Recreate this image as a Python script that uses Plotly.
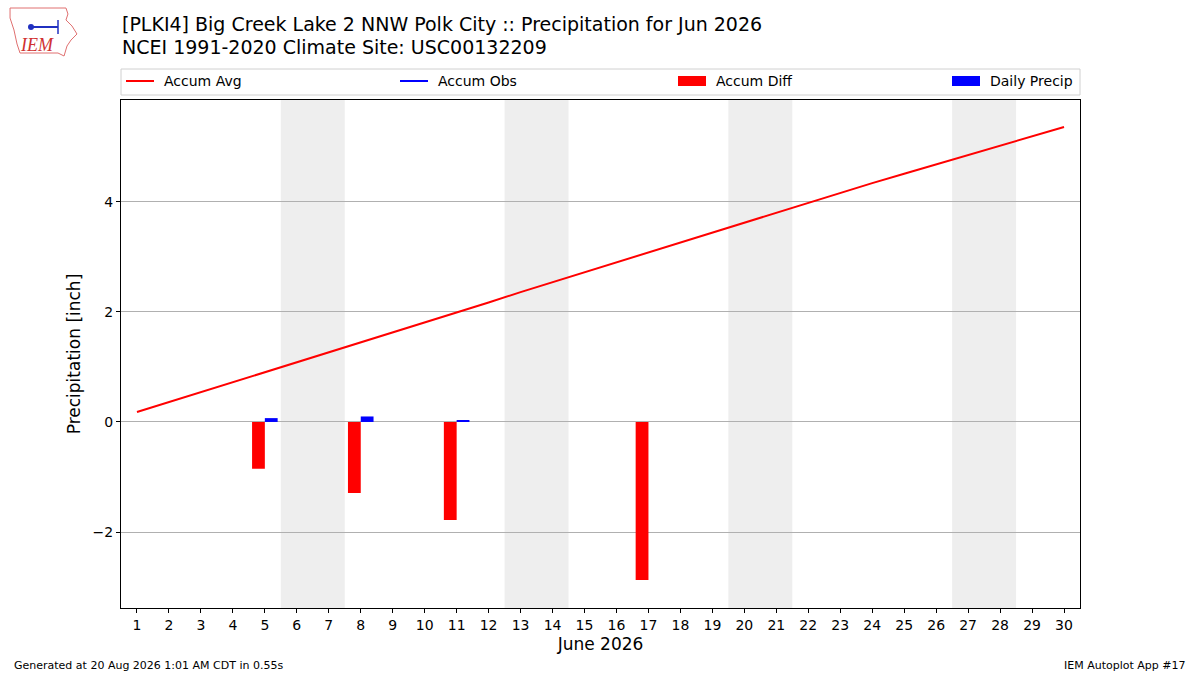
import plotly.graph_objects as go

# 6월 일자
days = list(range(1, 31))

# 평년 누적 강수량 (inch) - 그림에서 읽은 값
accum_avg = [0.18, 0.36, 0.55, 0.73, 0.91, 1.09, 1.27, 1.45, 1.63, 1.81,
             1.99, 2.17, 2.36, 2.54, 2.72, 2.90, 3.08, 3.27, 3.45, 3.63,
             3.81, 3.99, 4.17, 4.34, 4.51, 4.68, 4.85, 5.03, 5.19, 5.36]

# 관측 누적 (관측 있는 날만, 나머지 None)
accum_obs = [None, None, None, None, 0.07, None, None, 0.17, None, None,
             0.19, None, None, None, None, None, 0.19, None, None, None,
             None, None, None, None, None, None, None, None, None, None]

# 누적 차이 / 일 강수량
diff_days = [5, 8, 11, 17]
accum_diff = [-0.85, -1.29, -1.78, -2.87]
precip_days = [5, 8, 11]
daily_precip = [0.07, 0.10, 0.02]

# 주말 (토, 일)
weekends = [(6, 7), (13, 14), (20, 21), (27, 28)]

title_line1 = "[PLKI4] Big Creek Lake 2 NNW Polk City :: Precipitation for Jun 2026"
title_line2 = "NCEI 1991-2020 Climate Site: USC00132209"

# 플롯 영역 (픽셀)
L, R, T, B = 121, 1080, 100, 608


def fx(px):
    return (px - L) / (R - L)


def fy(py):
    return (B - py) / (B - T)


fig = go.Figure()

fig.add_trace(go.Scatter(
    x=days, y=accum_avg, mode="lines", name="Accum Avg",
    line=dict(color="red", width=2)
))
fig.add_trace(go.Scatter(
    x=days, y=accum_obs, mode="lines", name="Accum Obs",
    line=dict(color="blue", width=2), connectgaps=False
))
fig.add_trace(go.Bar(
    x=diff_days, y=accum_diff, name="Accum Diff",
    marker_color="red", marker_line_width=0,
    width=0.4, offset=-0.4
))
fig.add_trace(go.Bar(
    x=precip_days, y=daily_precip, name="Daily Precip",
    marker_color="blue", marker_line_width=0,
    width=0.4, offset=0
))

# 주말 음영
shapes = []
for a, b in weekends:
    shapes.append(dict(
        type="rect", xref="x", yref="paper",
        x0=a - 0.5, x1=b + 0.5, y0=0, y1=1,
        fillcolor="#eeeeee", line_width=0, layer="below"
    ))

# 범례 (matplotlib expand 스타일로 직접 그림)
shapes.append(dict(type="rect", xref="paper", yref="paper",
                   x0=fx(121), x1=fx(1080), y0=fy(95), y1=fy(69),
                   line=dict(color="#d0d0d0", width=1), fillcolor="white"))
legend_items = [
    ("Accum Avg", "line", "red", 126),
    ("Accum Obs", "line", "blue", 400),
    ("Accum Diff", "box", "red", 678),
    ("Daily Precip", "box", "blue", 952),
]
annotations = []
for label, kind, color, x0 in legend_items:
    if kind == "line":
        shapes.append(dict(type="line", xref="paper", yref="paper",
                           x0=fx(x0), x1=fx(x0 + 28), y0=fy(81), y1=fy(81),
                           line=dict(color=color, width=2)))
    else:
        shapes.append(dict(type="rect", xref="paper", yref="paper",
                           x0=fx(x0), x1=fx(x0 + 28), y0=fy(86), y1=fy(76),
                           line_width=0, fillcolor=color))
    annotations.append(dict(text=label, x=fx(x0 + 36), y=fy(81),
                            xref="paper", yref="paper", xanchor="left",
                            yanchor="middle", showarrow=False,
                            font=dict(size=14)))

# IEM 로고 대충 (아이오와 윤곽)
iowa = [(10, 8), (66, 8), (68, 14), (66, 20), (72, 26), (77, 34), (71, 40),
        (67, 46), (64, 56), (58, 53), (20, 53), (17, 44), (14, 30), (10, 18)]
path = "M " + " L ".join(f"{fx(x):.4f},{fy(y):.4f}" for x, y in iowa) + " Z"
shapes.append(dict(
    type="path", xref="paper", yref="paper", path=path,
    line=dict(color="#e07070", width=1), fillcolor="rgba(0,0,0,0)"
))
# 로고 안의 파란 기호
shapes.append(dict(type="line", xref="paper", yref="paper",
                   x0=fx(30), x1=fx(58), y0=fy(27), y1=fy(27),
                   line=dict(color="#2030c0", width=2)))
shapes.append(dict(type="line", xref="paper", yref="paper",
                   x0=fx(58), x1=fx(58), y0=fy(20), y1=fy(34),
                   line=dict(color="#2030c0", width=1.5)))
shapes.append(dict(type="circle", xref="paper", yref="paper",
                   x0=fx(28), x1=fx(34), y0=fy(30), y1=fy(24),
                   line_width=0, fillcolor="#2030c0"))

fig.update_layout(
    width=1200, height=675,
    margin=dict(l=L, r=1200 - R, t=T, b=675 - B),
    paper_bgcolor="white", plot_bgcolor="rgba(0,0,0,0)",
    font=dict(family="DejaVu Sans", size=14, color="black"),
    barmode="overlay",
    shapes=shapes,
    showlegend=False,
)

fig.update_xaxes(
    range=[0.5, 30.5], tickmode="array", tickvals=days,
    ticktext=[str(d) for d in days], tickfont=dict(size=14),
    ticks="outside", ticklen=4, tickcolor="black",
    showgrid=False, zeroline=False,
    showline=True, linecolor="black", mirror=True, linewidth=1,
    title=dict(text="June 2026", font=dict(size=17), standoff=6)
)
fig.update_yaxes(
    range=[-3.38, 5.85], tickmode="array", tickvals=[-2, 0, 2, 4],
    ticktext=["\u22122", "0", "2", "4"], tickfont=dict(size=14),
    ticks="outside", ticklen=4, tickcolor="black",
    showgrid=True, gridcolor="#b0b0b0", gridwidth=1, zeroline=False,
    showline=True, linecolor="black", mirror=True, linewidth=1,
    title=dict(text="Precipitation [inch]", font=dict(size=17), standoff=7)
)

annotations += [
    dict(text=title_line1, x=fx(120), y=fy(24), xref="paper", yref="paper",
         xanchor="left", yanchor="middle", showarrow=False, font=dict(size=19)),
    dict(text=title_line2, x=fx(120), y=fy(47), xref="paper", yref="paper",
         xanchor="left", yanchor="middle", showarrow=False, font=dict(size=19)),
    dict(text="Generated at 20 Aug 2026 1:01 AM CDT in 0.55s", x=fx(12), y=fy(665),
         xref="paper", yref="paper", xanchor="left", yanchor="middle",
         showarrow=False, font=dict(size=11)),
    dict(text="IEM Autoplot App #17", x=fx(1188), y=fy(665),
         xref="paper", yref="paper", xanchor="right", yanchor="middle",
         showarrow=False, font=dict(size=11)),
    dict(text="<i>IEM</i>", x=fx(37), y=fy(45), xref="paper", yref="paper",
         xanchor="center", yanchor="middle", showarrow=False,
         font=dict(family="Liberation Serif", size=18, color="#d03030")),
]
fig.update_layout(annotations=annotations)

# 페이지 기본 여백 제거, 모드바 숨김
fig.write_html("out.html", config={"displayModeBar": False},
               post_script="document.body.style.margin='0';")
